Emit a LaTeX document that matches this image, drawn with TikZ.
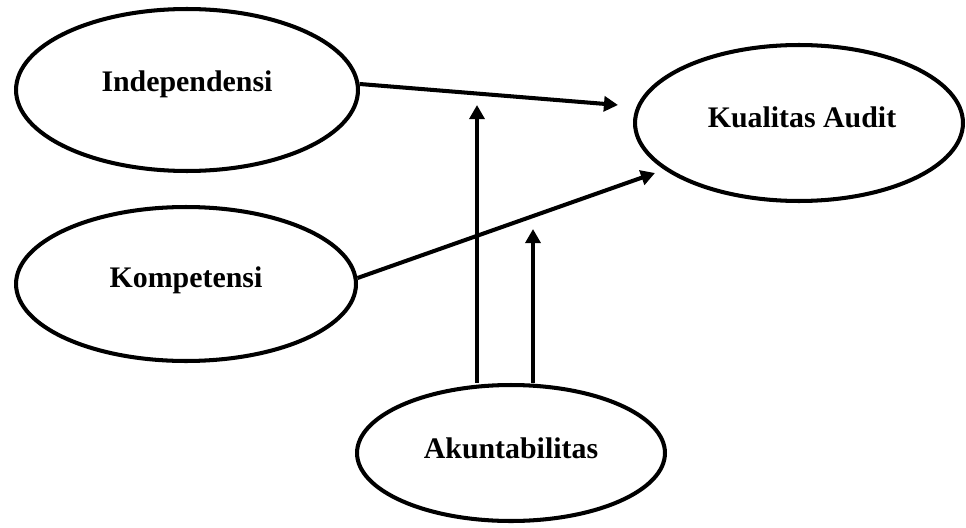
\documentclass[tikz,border=0pt]{standalone}
\usepackage{fontspec}
\setmainfont{Liberation Serif}
\usetikzlibrary{shapes.geometric,arrows.meta}
\begin{document}
\begin{tikzpicture}
[x=0.02cm, y=-0.02cm, >={Triangle[length=8pt, width=8.5pt]}, line width=2.3pt,
 var/.style={ellipse, draw, line width=2.3pt, inner sep=0pt},
 lbl/.style={font=\fontsize{17}{20}\selectfont\bfseries}]
\useasboundingbox (0,0) rectangle (966,527);
\node (Indep) at (187,90) [var, minimum width=6.84cm, minimum height=3.24cm] {};
\node (Komp) at (186,284) [var, minimum width=6.8cm, minimum height=3.08cm] {};
\node (Kual) at (799,123) [var, minimum width=6.56cm, minimum height=3.12cm] {};
\node (Akun) at (511,453) [var, minimum width=6.16cm, minimum height=2.72cm] {};
\node (IndepT) at (187,84) [lbl] {Independensi};
\node (KompT) at (186,280) [lbl] {Kompetensi};
\node (KualT) at (802,117) [lbl] {Kualitas Audit};
\node (AkunT) at (511,448) [lbl] {Akuntabilitas};

\coordinate (tipI) at (618,105);
\coordinate (tipK) at (655,173);
\coordinate (tipA) at (477,105);
\coordinate (tipB) at (533,229);
\draw[->] (Indep.2) -- (tipI);
\draw[->] (Komp.2) -- (tipK);
\draw[->] (tipA |- Akun.north) -- (tipA);
\draw[->] (tipB |- Akun.north) -- (tipB);
\end{tikzpicture}
\end{document}
